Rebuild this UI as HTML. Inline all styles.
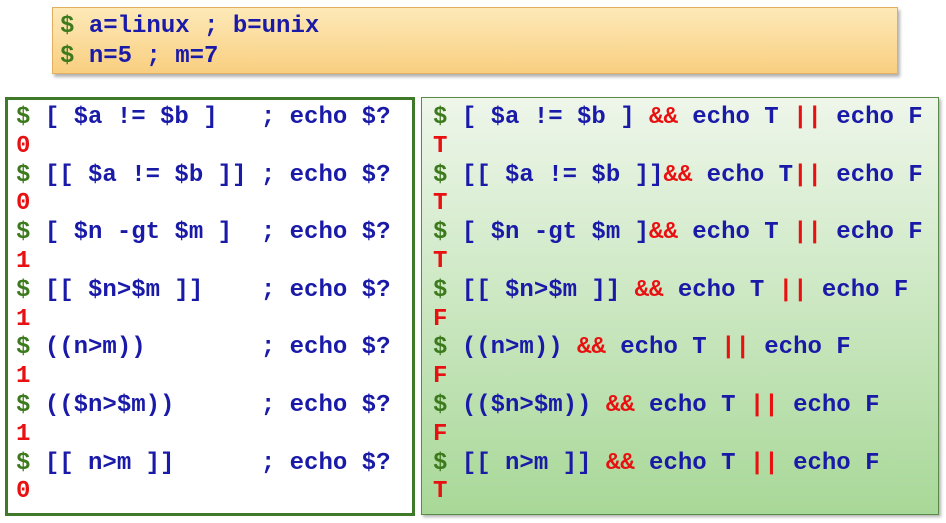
<!DOCTYPE html>
<html><head><meta charset="utf-8"><style>
body{margin:0;width:946px;height:523px;background:#fff;position:relative;overflow:hidden;font-family:"Liberation Mono",monospace;font-weight:bold;font-size:24px}
.box{position:absolute;box-sizing:border-box}
pre{margin:0;font:inherit;line-height:28.8px;position:absolute;white-space:pre}
.g{color:#3d7a1e}.b{color:#1a1aa8}.r{color:#e81010}
</style></head><body>
<div class="box" style="left:52px;top:7px;width:846px;height:67px;background:linear-gradient(#fde9b8,#f9cf80);border:1px solid #e0b060;box-shadow:2px 3px 3px rgba(0,0,0,.3)"></div>
<pre style="left:60px;top:12px;line-height:30px"><span class="g">$</span> <span class="b">a=linux ; b=unix</span>
<span class="g">$</span> <span class="b">n=5 ; m=7</span></pre>
<div class="box" style="left:5px;top:97px;width:410px;height:419px;border:3px solid #3f7a2a;background:#fff"></div>
<div class="box" style="left:421px;top:97px;width:518px;height:418px;border:1px solid #5a8a4a;background:linear-gradient(#eef6ea,#a8d898);box-shadow:2px 2px 3px rgba(0,0,0,.3)"></div>
<pre style="left:16px;top:104px"><span class="g">$</span> <span class="b">[ $a != $b ]   ; echo $?</span>
<span class="r">0</span>
<span class="g">$</span> <span class="b">[[ $a != $b ]] ; echo $?</span>
<span class="r">0</span>
<span class="g">$</span> <span class="b">[ $n -gt $m ]  ; echo $?</span>
<span class="r">1</span>
<span class="g">$</span> <span class="b">[[ $n>$m ]]    ; echo $?</span>
<span class="r">1</span>
<span class="g">$</span> <span class="b">((n>m))        ; echo $?</span>
<span class="r">1</span>
<span class="g">$</span> <span class="b">(($n>$m))      ; echo $?</span>
<span class="r">1</span>
<span class="g">$</span> <span class="b">[[ n>m ]]      ; echo $?</span>
<span class="r">0</span></pre>
<pre style="left:433px;top:104px"><span class="g">$</span> <span class="b">[ $a != $b ] </span><span class="r">&amp;&amp;</span><span class="b"> echo T </span><span class="r">||</span><span class="b"> echo F</span>
<span class="r">T</span>
<span class="g">$</span> <span class="b">[[ $a != $b ]]</span><span class="r">&amp;&amp;</span><span class="b"> echo T</span><span class="r">||</span><span class="b"> echo F</span>
<span class="r">T</span>
<span class="g">$</span> <span class="b">[ $n -gt $m ]</span><span class="r">&amp;&amp;</span><span class="b"> echo T </span><span class="r">||</span><span class="b"> echo F</span>
<span class="r">T</span>
<span class="g">$</span> <span class="b">[[ $n>$m ]] </span><span class="r">&amp;&amp;</span><span class="b"> echo T </span><span class="r">||</span><span class="b"> echo F</span>
<span class="r">F</span>
<span class="g">$</span> <span class="b">((n>m)) </span><span class="r">&amp;&amp;</span><span class="b"> echo T </span><span class="r">||</span><span class="b"> echo F</span>
<span class="r">F</span>
<span class="g">$</span> <span class="b">(($n>$m)) </span><span class="r">&amp;&amp;</span><span class="b"> echo T </span><span class="r">||</span><span class="b"> echo F</span>
<span class="r">F</span>
<span class="g">$</span> <span class="b">[[ n>m ]] </span><span class="r">&amp;&amp;</span><span class="b"> echo T </span><span class="r">||</span><span class="b"> echo F</span>
<span class="r">T</span></pre>
</body></html>
